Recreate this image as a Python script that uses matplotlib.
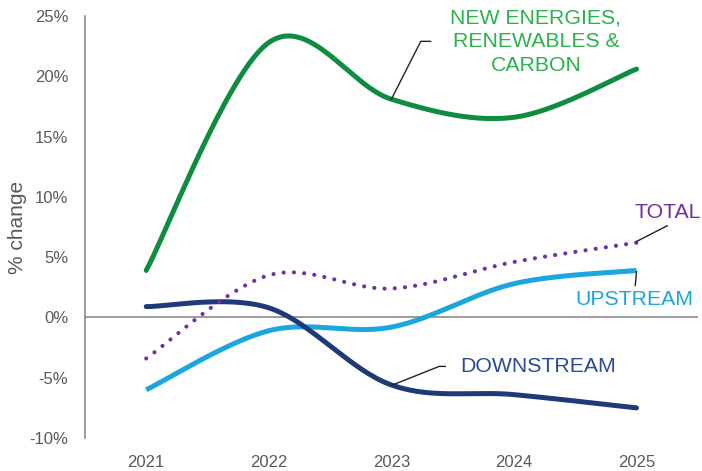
import numpy as np
import matplotlib
matplotlib.use('Agg')
import matplotlib.pyplot as plt
import matplotlib.ticker as mticker

# --- Dados (variação % por segmento) ---
anos = [2021, 2022, 2023, 2024, 2025]
novas_energias = [3.9, 22.8, 18.1, 16.6, 20.6]
total = [-3.4, 3.5, 2.4, 4.6, 6.2]
upstream = [-6.0, -1.1, -0.8, 2.8, 3.9]
downstream = [0.9, 0.8, -5.6, -6.4, -7.5]
yticks = [-10, -5, 0, 5, 10, 15, 20, 25]

# --- Cores ---
COR_VERDE = '#0F8C3F'
COR_VERDE_TXT = '#2BB24C'
COR_ROXO = '#7030A0'
COR_AZUL_CLARO = '#1BA6DE'
COR_AZUL_ESCURO = '#1F3A78'
COR_AZUL_TXT = '#2B4A9C'
COR_CINZA = '#595959'


def suaviza(xs, ys, n=60):
    # curva suavizada estilo Excel (Bezier com tangentes Catmull-Rom)
    xs = np.asarray(xs, float)
    ys = np.asarray(ys, float)
    px = np.concatenate([[xs[0]], xs, [xs[-1]]])
    py = np.concatenate([[ys[0]], ys, [ys[-1]]])
    out_x, out_y = [], []
    t = np.linspace(0, 1, n)
    for i in range(1, len(px) - 2):
        x0, y0 = px[i], py[i]
        x3, y3 = px[i + 1], py[i + 1]
        x1 = x0 + (px[i + 1] - px[i - 1]) / 6
        y1 = y0 + (py[i + 1] - py[i - 1]) / 6
        x2 = x3 - (px[i + 2] - px[i]) / 6
        y2 = y3 - (py[i + 2] - py[i]) / 6
        b0, b1, b2, b3 = (1 - t) ** 3, 3 * (1 - t) ** 2 * t, 3 * (1 - t) * t ** 2, t ** 3
        out_x.append(b0 * x0 + b1 * x1 + b2 * x2 + b3 * x3)
        out_y.append(b0 * y0 + b1 * y1 + b2 * y2 + b3 * y3)
    return np.concatenate(out_x), np.concatenate(out_y)


plt.rcParams['font.family'] = ['Liberation Sans', 'DejaVu Sans']

fig = plt.figure(figsize=(7.02, 4.71), dpi=100)
ax = fig.add_axes([0.121, 0.070, 0.873, 0.896])

ax.axhline(0, color='#7F7F7F', lw=1.1, zorder=1)

x, y = suaviza(anos, upstream)
ax.plot(x, y, color=COR_AZUL_CLARO, lw=3.6, solid_capstyle='butt', zorder=3)
x, y = suaviza(anos, downstream)
ax.plot(x, y, color=COR_AZUL_ESCURO, lw=3.6, solid_capstyle='round', zorder=4)
x, y = suaviza(anos, total)
ax.plot(x, y, color=COR_ROXO, lw=3.0, linestyle=(0, (0.01, 2.45)),
        dash_capstyle='round', zorder=5)
x, y = suaviza(anos, novas_energias)
ax.plot(x, y, color=COR_VERDE, lw=3.6, solid_capstyle='round', zorder=6)

# --- Rótulos com linhas de chamada ---
lc = dict(color='#222222', lw=1.0, zorder=7)
ax.plot([2023.0, 2023.24, 2023.32], [18.1, 22.9, 22.9], **lc)
ax.text(2024.18, 22.9, 'NEW ENERGIES,\nRENEWABLES &\nCARBON', color=COR_VERDE_TXT,
        fontsize=15.3, ha='center', va='center', multialignment='center', linespacing=1.32)

ax.plot([2025.0, 2025.25], [6.3, 7.6], **lc)
ax.text(2024.98, 8.7, 'TOTAL', color=COR_ROXO, fontsize=15.3, ha='left', va='center')

ax.plot([2025.0, 2024.99], [3.8, 2.65], **lc)
ax.text(2024.98, 1.45, 'UPSTREAM', color=COR_AZUL_CLARO, fontsize=15.3, ha='center', va='center')

ax.plot([2023.0, 2023.39, 2023.44], [-5.64, -4.06, -4.06], **lc)
ax.text(2023.56, -4.06, 'DOWNSTREAM', color=COR_AZUL_TXT, fontsize=15.3, ha='left', va='center')

# --- Eixos ---
ax.set_xlim(2020.5, 2025.5)
ax.set_ylim(-10, 25)
ax.set_xticks(anos)
ax.set_yticks(yticks)
ax.yaxis.set_major_formatter(mticker.FuncFormatter(lambda v, p: f'{int(v)}%'))
ax.tick_params(axis='both', length=0, labelsize=12, colors=COR_CINZA)
ax.tick_params(axis='y', pad=12)
ax.tick_params(axis='x', pad=12)
ax.set_ylabel('% change', fontsize=15, color=COR_CINZA)
ax.yaxis.set_label_coords(-0.094, 0.5)

for lado in ['top', 'right', 'bottom']:
    ax.spines[lado].set_visible(False)
ax.spines['left'].set_color('#7F7F7F')
ax.spines['left'].set_linewidth(1.1)

plt.savefig('out.png', dpi=100)
